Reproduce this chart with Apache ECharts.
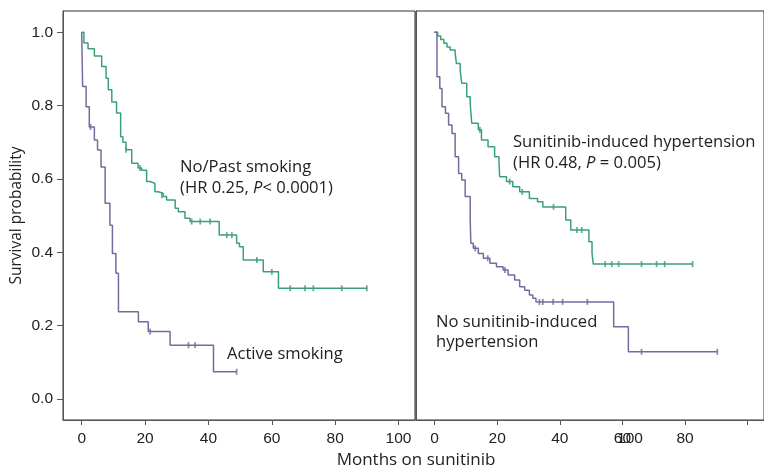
<!DOCTYPE html>
<html><head><meta charset="utf-8">
<script src="https://cdn.jsdelivr.net/npm/echarts@6/dist/echarts.min.js"></script>
<style>html,body{margin:0;padding:0;background:#fff}#c{width:764px;height:468px}</style>
</head><body><div id="c"></div>
<script>
// ---- data ----
const xTicks = [0, 20, 40, 60, 80, 100];
const rightXLabels = [0, 20, 40, 60, 80];
const yTicks = [0, 0.2, 0.4, 0.6, 0.8, 1.0];

// Left panel: smoking status (months, survival)
const noPastSmoking = [[0,1.0],[0.7,0.971],[2,0.955],[4,0.935],[6.3,0.907],[7.7,0.875],[8.4,0.843],[9.5,0.81],[11,0.78],[12.3,0.715],[13,0.70],[14,0.68],[15.8,0.643],[17.8,0.63],[18.9,0.624],[20.5,0.593],[21.6,0.588],[23.1,0.565],[24.2,0.561],[25.7,0.552],[26.8,0.543],[29.5,0.52],[30.5,0.511],[32.6,0.493],[34.2,0.484],[43.4,0.447],[48.9,0.425],[49.8,0.415],[51,0.379],[57.3,0.347],[62.1,0.302],[90,0.302]];
const noPastSmokingCensor = [[14,0.68],[18.4,0.63],[25.3,0.556],[34.7,0.484],[37.4,0.484],[40.5,0.484],[45.8,0.447],[47.4,0.447],[55.3,0.379],[60,0.347],[65.8,0.302],[70.5,0.302],[73.1,0.302],[82.1,0.302],[90,0.302]];
const activeSmoking = [[0,1.0],[0.3,0.852],[1.4,0.797],[2.4,0.742],[4,0.706],[5,0.679],[6.1,0.633],[7.4,0.534],[8.9,0.474],[9.7,0.397],[10.8,0.343],[11.6,0.238],[17.9,0.211],[21,0.184],[27.9,0.147],[41.6,0.0745],[48.9,0.0745]];
const activeSmokingCensor = [[2.8,0.742],[21.6,0.184],[33.7,0.147],[35.8,0.147],[48.9,0.0745]];

// Right panel: sunitinib-induced hypertension
const hypertension = [[0,1.0],[1,0.99],[2,0.98],[3,0.97],[4,0.96],[5,0.952],[6.6,0.943],[7,0.915],[8.2,0.897],[8.7,0.861],[10.3,0.824],[11.4,0.806],[11.9,0.752],[14,0.734],[15,0.706],[17.1,0.688],[19.2,0.661],[20.6,0.647],[20.8,0.606],[23,0.593],[25,0.579],[27.2,0.565],[30.3,0.547],[32.9,0.538],[34.6,0.524],[41.9,0.488],[43.5,0.461],[49.3,0.429],[50.3,0.397],[50.7,0.368],[82.4,0.368]];
const hypertensionCensor = [[14.5,0.734],[24,0.593],[28,0.565],[38,0.524],[45.5,0.461],[47,0.461],[54.5,0.368],[56.6,0.368],[58.8,0.368],[66.1,0.368],[70.9,0.368],[73.5,0.368],[82.4,0.368]];
const noHypertension = [[0,1.0],[0.8,0.879],[1.7,0.847],[2.4,0.797],[3.5,0.779],[4.5,0.747],[5.6,0.724],[6.6,0.661],[7.7,0.615],[8.7,0.597],[9.8,0.552],[11.4,0.493],[11.6,0.425],[12.4,0.411],[14,0.397],[15.6,0.384],[17.7,0.37],[19.8,0.361],[21.9,0.352],[23.5,0.338],[25.6,0.325],[27.2,0.306],[28.8,0.297],[30.3,0.284],[31.4,0.275],[32.4,0.265],[57.2,0.197],[61.9,0.129],[90.3,0.129]];
const noHypertensionCensor = [[13,0.411],[17,0.384],[22.5,0.352],[33.5,0.265],[34.6,0.265],[37.9,0.265],[40.9,0.265],[48.8,0.265],[66.1,0.129],[90.3,0.129]];

// ---- styles ----
const GREEN = '#3c9f7c', BLUE = '#6d6e9e', AX = '#555', TXT = '#222';
const tickFont = {fontFamily: 'Liberation Sans', fontSize: 15.5, color: TXT};
const annFont = 'Open Sans';
const annSize = 16.6;

function xAxisCfg(gi, labels){
  return {type:'value', gridIndex: gi, min:-5.9, max:105.2,
    axisLine:{show:true, onZero:false, lineStyle:{color:AX, width:1}},
    axisTick:{show:true, length:5, customValues:xTicks, lineStyle:{color:AX}},
    axisLabel:Object.assign({margin:11, customValues:labels}, tickFont),
    splitLine:{show:false}};
}
function line(data, color, gi){
  return {type:'line', xAxisIndex:gi, yAxisIndex:gi, data, step:'end', symbol:'none',
    lineStyle:{color, width:1.5}, animation:false, silent:true};
}
function censor(data, color, gi){
  return {type:'scatter', xAxisIndex:gi, yAxisIndex:gi, data, symbol:'rect', symbolSize:[1.8,6],
    itemStyle:{color}, animation:false, silent:true};
}
function txt(x, y, rich){
  return {type:'text', x, y, style:{text:rich, fontFamily:annFont, fontSize:annSize, fill:TXT, verticalAlign:'middle',
    rich:{n:{fontFamily:annFont, fontSize:annSize, fill:TXT}, i:{fontFamily:annFont, fontSize:annSize, fontStyle:'italic', fill:TXT}}}};
}

const chart = echarts.init(document.getElementById('c'), null, {renderer:'canvas'});
chart.setOption({
  backgroundColor:'#fff',
  animation:false,
  grid:[
    {left:63, top:11, width:352, height:409, show:true, borderColor:'#333', borderWidth:1, backgroundColor:'transparent'},
    {left:416, top:11, width:352, height:409, show:true, borderColor:'#333', borderWidth:1, backgroundColor:'transparent'}
  ],
  xAxis:[xAxisCfg(0, xTicks), xAxisCfg(1, rightXLabels)],
  yAxis:[
    {type:'value', gridIndex:0, min:-0.057, max:1.058,
      axisLine:{show:true, onZero:false, lineStyle:{color:AX}},
      axisTick:{show:true, length:6, customValues:yTicks, lineStyle:{color:AX}},
      axisLabel:Object.assign({margin:10, customValues:yTicks, formatter:v=>v.toFixed(1)}, tickFont),
      splitLine:{show:false},
      name:'Survival probability', nameLocation:'middle', nameGap:38,
      nameTextStyle:{fontFamily:annFont, fontSize:15.5, color:TXT}},
    {type:'value', gridIndex:1, min:-0.057, max:1.058,
      axisLine:{show:true, onZero:false, lineStyle:{color:AX}}, axisTick:{show:false}, axisLabel:{show:false}, splitLine:{show:false}}
  ],
  series:[
    line(noPastSmoking, GREEN, 0), censor(noPastSmokingCensor, GREEN, 0),
    line(activeSmoking, BLUE, 0), censor(activeSmokingCensor, BLUE, 0),
    line(hypertension, GREEN, 1), censor(hypertensionCensor, GREEN, 1),
    line(noHypertension, BLUE, 1), censor(noHypertensionCensor, BLUE, 1)
  ],
  graphic:[
    txt(180, 167, '{n|No/Past smoking}'),
    txt(180, 188, '{n|(HR 0.25, }{i|P}{n|< 0.0001)}'),
    txt(227, 354, '{n|Active smoking}'),
    txt(513, 142, '{n|Sunitinib-induced hypertension}'),
    txt(513, 163, '{n|(HR 0.48, }{i|P}{n| = 0.005)}'),
    txt(436, 322, '{n|No sunitinib-induced}'),
    txt(436, 342, '{n|hypertension}'),
    {type:'text', x:416, y:460, style:{text:'Months on sunitinib', fontFamily:annFont, fontSize:17, fill:TXT, align:'center', verticalAlign:'middle'}},
    {type:'text', x:630, y:439, style:{text:'100', fontFamily:'Liberation Sans', fontSize:15.5, fill:TXT, align:'center', verticalAlign:'middle'}}
  ]
});
</script>
</body></html>
